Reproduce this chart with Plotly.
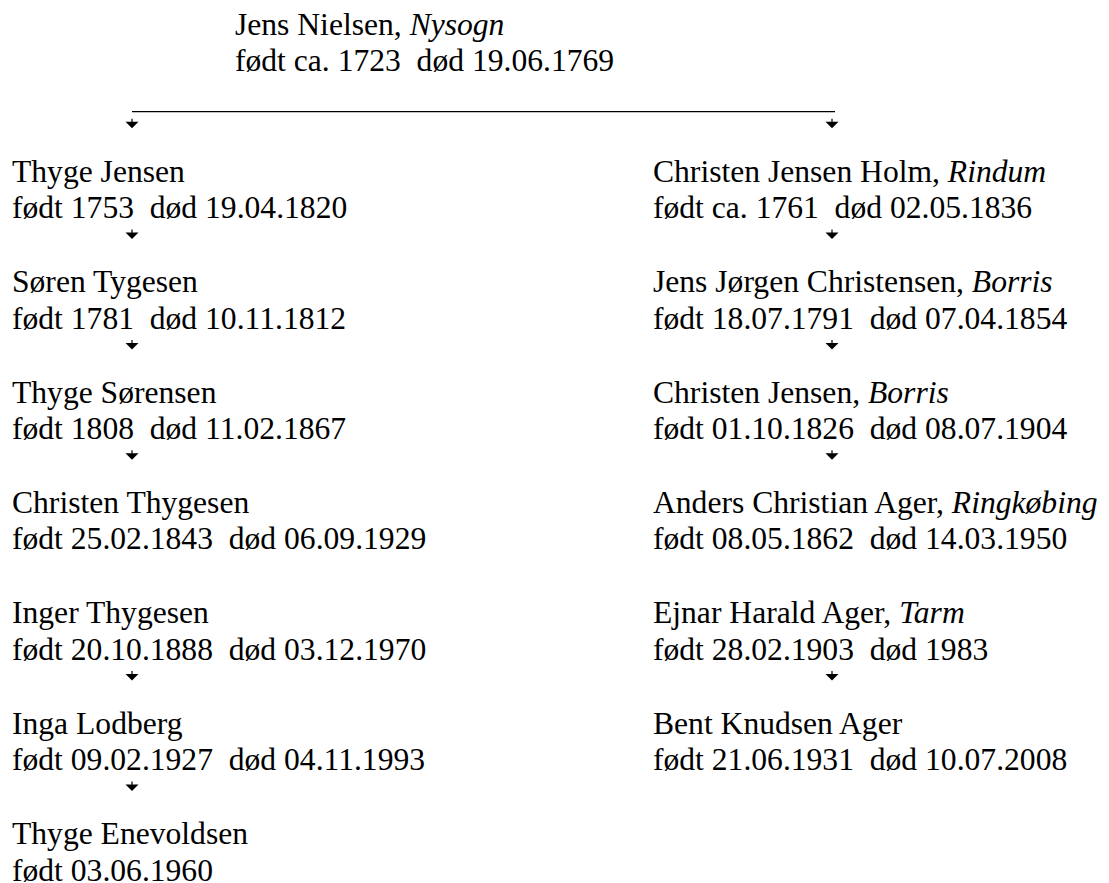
import plotly.graph_objects as go

# ---- data -------------------------------------------------------------
root_name = "Jens Nielsen"
root_place = "Nysogn"
root_dates = "født ca. 1723  død 19.06.1769"

left_names = ["Thyge Jensen", "Søren Tygesen", "Thyge Sørensen", "Christen Thygesen",
              "Inger Thygesen", "Inga Lodberg", "Thyge Enevoldsen"]
left_places = [None, None, None, None, None, None, None]
left_dates = ["født 1753  død 19.04.1820", "født 1781  død 10.11.1812",
              "født 1808  død 11.02.1867", "født 25.02.1843  død 06.09.1929",
              "født 20.10.1888  død 03.12.1970", "født 09.02.1927  død 04.11.1993",
              "født 03.06.1960"]
left_arrows = [True, True, True, False, True, True, False]

right_names = ["Christen Jensen Holm", "Jens Jørgen Christensen", "Christen Jensen",
               "Anders Christian Ager", "Ejnar Harald Ager", "Bent Knudsen Ager"]
right_places = ["Rindum", "Borris", "Borris", "Ringkøbing", "Tarm", None]
right_dates = ["født ca. 1761  død 02.05.1836", "født 18.07.1791  død 07.04.1854",
               "født 01.10.1826  død 08.07.1904", "født 08.05.1862  død 14.03.1950",
               "født 28.02.1903  død 1983", "født 21.06.1931  død 10.07.2008"]
right_arrows = [True, True, True, False, True, False]

# ---- layout constants (page pixels) -----------------------------------
W, H = 1109, 883
FONT = dict(family="Liberation Serif, Times New Roman, serif", size=31.6, color="black")
MID = 10.7          # baseline -> middle of text box
ROOT_X, LEFT_X, RIGHT_X = 234, 11, 652
LEFT_ARROW_X, RIGHT_ARROW_X = 132, 832
LINE_END_X = 835
ROOT_BASE = 35
LINE_PITCH = 36.3
FIRST_BASE = 182
BLOCK_PITCH = 110.4
BAR_Y = 111.7
ARROW_LEN = 11


def fmt(s):
    return s.replace("  ", " \u00a0")


def label(name, place):
    return name if place is None else f"{name}, <i>{place}</i>"


annotations = []


def text(x, base, s):
    annotations.append(dict(x=x, y=base - MID, text=s, xanchor="left", yanchor="middle",
                            showarrow=False, font=FONT, borderpad=0, xref="x", yref="y"))


def arrow(x, tip):
    annotations.append(dict(x=x, y=tip, text="", showarrow=True, ax=0, ay=-ARROW_LEN,
                            arrowhead=1, arrowsize=1.8, arrowwidth=1.2, arrowcolor="black",
                            standoff=0, startstandoff=0, xref="x", yref="y"))


text(ROOT_X, ROOT_BASE, label(root_name, root_place))
text(ROOT_X, ROOT_BASE + LINE_PITCH, fmt(root_dates))
arrow(LEFT_ARROW_X, BAR_Y + 16.5)
arrow(RIGHT_ARROW_X, BAR_Y + 16.5)

for col_x, ax_x, names, places, dates, arrows in (
        (LEFT_X, LEFT_ARROW_X, left_names, left_places, left_dates, left_arrows),
        (RIGHT_X, RIGHT_ARROW_X, right_names, right_places, right_dates, right_arrows)):
    for i, (n, p, d, a) in enumerate(zip(names, places, dates, arrows)):
        base = FIRST_BASE + BLOCK_PITCH * i
        text(col_x, base, label(n, p))
        text(col_x, base + LINE_PITCH, fmt(d))
        if a:
            arrow(ax_x, base + 57)

fig = go.Figure()
fig.add_trace(go.Scatter(x=[LEFT_ARROW_X, LINE_END_X], y=[BAR_Y, BAR_Y], mode="lines",
                         line=dict(color="black", width=1.2), hoverinfo="skip",
                         showlegend=False))

fig.update_layout(
    width=W, height=H,
    margin=dict(l=0, r=0, t=0, b=0),
    paper_bgcolor="white", plot_bgcolor="white",
    xaxis=dict(range=[0, W], visible=False, fixedrange=True),
    yaxis=dict(range=[H, 0], visible=False, fixedrange=True),
    annotations=annotations,
    showlegend=False,
)

fig.write_html("out.html", config={"displayModeBar": False},
               post_script="document.body.style.margin='0px';"
                           "document.body.style.overflow='hidden';")
